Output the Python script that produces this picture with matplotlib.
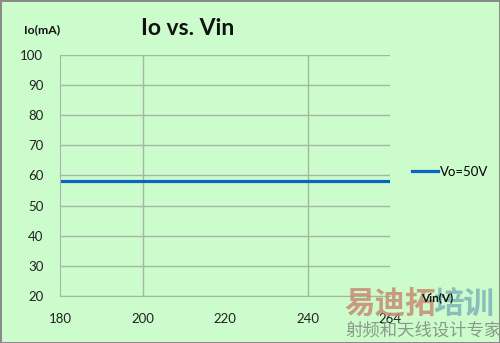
import matplotlib
matplotlib.use("Agg")
import matplotlib.pyplot as plt

vin_labels = ["180", "200", "220", "240", "264"]
io_values = [58, 58, 58, 58, 58]
y_ticks = [20, 30, 40, 50, 60, 70, 80, 90, 100]
series_name = "Vo=50V"

bg = "#ccfccc"
grid_c = "#a3b8a3"

fig = plt.figure(figsize=(5, 3.43), dpi=100, facecolor=bg)
fig.patch.set_edgecolor("#8a8a8a")
fig.patch.set_linewidth(2)
ax = fig.add_axes([0.12, 0.137, 0.66, 0.703])
ax.set_facecolor(bg)

x = list(range(len(vin_labels)))
line, = ax.plot(x, io_values, color="#0a64c0", linewidth=2.3, label=series_name)

ax.set_xlim(0, len(vin_labels) - 1)
ax.set_ylim(20, 100)
ax.set_yticks(y_ticks)
ax.set_xticks(x)
ax.set_xticklabels(vin_labels)
for v in y_ticks:
    ax.axhline(v, color=grid_c, linewidth=1, zorder=0)
for xv in [1, 3]:
    ax.axvline(xv, color=grid_c, linewidth=1, zorder=0)

for s in ["top", "right"]:
    ax.spines[s].set_visible(False)
ax.spines["left"].set_color(grid_c)
ax.spines["bottom"].set_color(grid_c)
ax.tick_params(axis="both", length=0, labelsize=9.5, colors="#222222")
ax.tick_params(axis="y", pad=12)
ax.tick_params(axis="x", pad=12)
for t in ax.get_xticklabels() + ax.get_yticklabels():
    t.set_fontfamily("Lato")

fig.text(0.376, 0.918, "Io vs. Vin", fontsize=16.5, fontweight="bold",
         ha="center", va="center", family="Lato", color="#111111")
fig.text(0.084, 0.912, "Io(mA)", fontsize=8.8, fontweight="bold",
         ha="center", va="center", family="Lato", color="#111111")

# watermark
fig.text(0.688, 0.112, "易迪拓", fontsize=22, fontweight="bold", color="#c98a72",
         alpha=0.85, family=["Noto Sans CJK SC"], ha="left", va="center")
fig.text(0.866, 0.112, "培训", fontsize=22, fontweight="bold", color="#7fb2b8",
         alpha=0.85, family=["Noto Sans CJK SC"], ha="left", va="center")
fig.text(0.69, 0.035, "射频和天线设计专家", fontsize=12.5, color="#8a9a8a",
         family=["Noto Sans CJK SC"], ha="left", va="center")

fig.text(0.874, 0.131, "Vin(V)", fontsize=8.5, fontweight="bold",
         ha="center", va="center", family="Lato", color="#111111")

leg = fig.legend(handles=[line], loc="center left", bbox_to_anchor=(0.8, 0.5),
                 frameon=False, handlelength=2.0, handletextpad=0.15,
                 prop={"family": "Lato", "size": 9.5})

fig.savefig("out.png", dpi=100, facecolor=bg, edgecolor=fig.patch.get_edgecolor())
